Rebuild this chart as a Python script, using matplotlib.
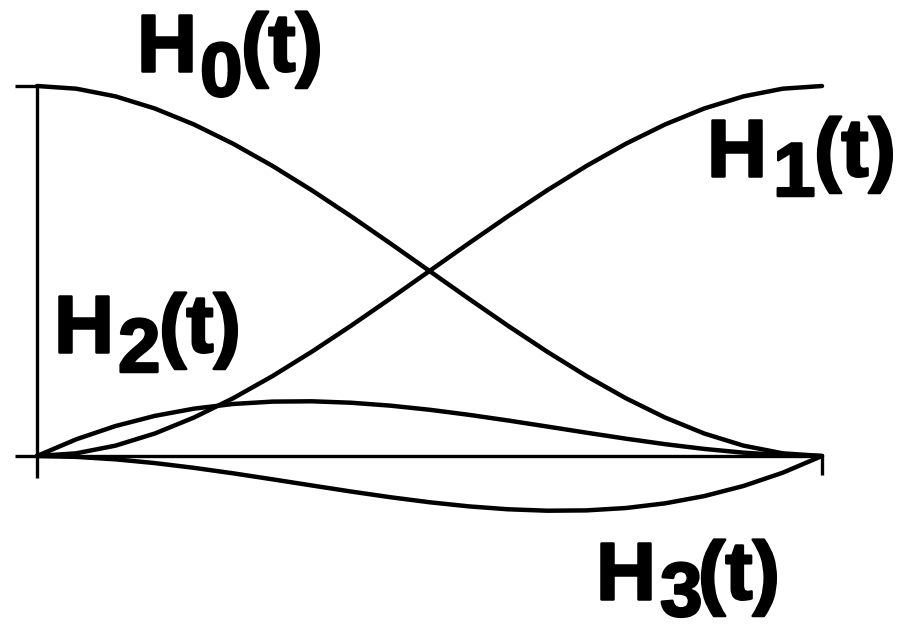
import matplotlib
matplotlib.use("Agg")
import matplotlib.pyplot as plt
import matplotlib.patheffects as pe

# Hermite basis functions sampled on t in [0, 1]
t = [0.0, 0.05, 0.1, 0.15, 0.2, 0.25, 0.3, 0.35, 0.4, 0.45, 0.5,
     0.55, 0.6, 0.65, 0.7, 0.75, 0.8, 0.85, 0.9, 0.95, 1.0]
h0 = [1.0, 0.99275, 0.972, 0.93925, 0.896, 0.84375, 0.784, 0.71825, 0.648, 0.57475, 0.5,
      0.42525, 0.352, 0.28175, 0.216, 0.15625, 0.104, 0.06075, 0.028, 0.00725, 0.0]
h1 = [0.0, 0.00725, 0.028, 0.06075, 0.104, 0.15625, 0.216, 0.28175, 0.352, 0.42525, 0.5,
      0.57475, 0.648, 0.71825, 0.784, 0.84375, 0.896, 0.93925, 0.972, 0.99275, 1.0]
h2 = [0.0, 0.045125, 0.081, 0.108375, 0.128, 0.140625, 0.147, 0.147875, 0.144, 0.136125, 0.125,
      0.111375, 0.096, 0.079625, 0.063, 0.046875, 0.032, 0.019125, 0.009, 0.002375, 0.0]
h3 = [0.0, -0.002375, -0.009, -0.019125, -0.032, -0.046875, -0.063, -0.079625, -0.096, -0.111375, -0.125,
      -0.136125, -0.144, -0.147875, -0.147, -0.140625, -0.128, -0.108375, -0.081, -0.045125, 0.0]

# label pieces: (name, subscript)
labels = [("H", "0"), ("H", "1"), ("H", "2"), ("H", "3")]

W, H = 898, 625
fig = plt.figure(figsize=(W / 100, H / 100), dpi=100, facecolor="white")
ax = fig.add_axes([0, 0, 1, 1])
ax.set_xlim(-37 / 785, (W - 37) / 785)
ax.set_ylim(-(H - 456) / 370, 456 / 370)
ax.axis("off")

# axes drawn by hand
ak = dict(color="black", lw=2.4, solid_capstyle="butt")
ax.plot([0, 0], [1, -0.06], **ak)
ax.plot([-0.028, 0], [1, 1], **ak)
ax.plot([-0.028, 1], [0, 0], **ak)
ax.plot([1, 1], [0, -0.05], **ak)

for ys in (h0, h1, h2, h3):
    ax.plot(t, ys, color="black", lw=3.2, solid_capstyle="round")

# heavy labels built from H, lowered digit and (t)
heavy = [pe.withStroke(linewidth=1.8, foreground="black")]
font = dict(family="Liberation Sans", fontweight="bold", color="black",
            va="baseline", ha="left", path_effects=heavy)
pos = [(137, 71, 200, 96, 241), (707, 176, 773, 196, 814),
       (54, 352, 118, 372, 159), (596, 599, 660, 616, 698)]
for (name, sub), (xh, yb, xs, ys, xp) in zip(labels, pos):
    fig.text(xh / W, 1 - yb / H, name, fontsize=59, **font)
    fig.text(xs / W, 1 - ys / H, sub, fontsize=55, **font)
    fig.text(xp / W, 1 - yb / H, "(t)", fontsize=59, **font)

fig.savefig("out.png", dpi=100, facecolor="white")
